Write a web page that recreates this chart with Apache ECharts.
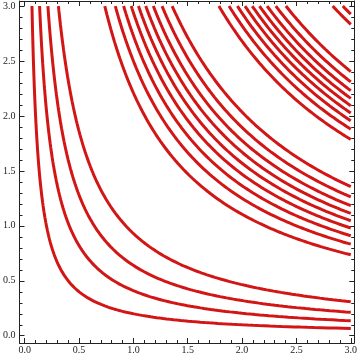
<!DOCTYPE html>
<html>
<head>
<meta charset="utf-8">
<script src="https://cdn.jsdelivr.net/npm/echarts@6/dist/echarts.min.js"></script>
<style>html,body{margin:0;padding:0;background:#fff}#c{width:360px;height:357px}</style>
</head>
<body>
<div id="c"></div>
<script>
// Contour curves x*y = c (contours of sin(x*y) at levels ±0.2..±0.8 and 0)
var contourProducts = [0.20, 0.41, 0.64, 0.93,
  2.21, 2.50, 2.73, 2.94, 3.14, 3.34, 3.55, 3.79, 4.07,
  5.36, 5.64, 5.87, 6.08, 6.28, 6.48, 6.69, 6.93, 7.21,
  8.50, 8.78];
var majorTicks = [0, 0.5, 1, 1.5, 2, 2.5, 3];
var minorTicks = [0,0.1,0.2,0.3,0.4,0.5,0.6,0.7,0.8,0.9,1,1.1,1.2,1.3,1.4,1.5,1.6,1.7,1.8,1.9,2,2.1,2.2,2.3,2.4,2.5,2.6,2.7,2.8,2.9,3];
var domainMax = 3;

var series = contourProducts.map(function (c) {
  var xs = c / domainMax, xe = domainMax, n = 160, pts = [];
  for (var i = 0; i <= n; i++) {
    var x = xs * Math.pow(xe / xs, i / n);
    pts.push([x, c / x]);
  }
  return {
    type: 'line', data: pts, showSymbol: false, symbol: 'none',
    xAxisIndex: 0, yAxisIndex: 0,
    lineStyle: { color: '#d21616', width: 3 }, silent: true
  };
});

var lab = { fontFamily: 'Liberation Serif', fontSize: 10, color: '#222' };
function fmt(v) { return v.toFixed(1); }
function xa(pos, major, showLabel, showLine) {
  return {
    type: 'value', position: pos, min: -0.048, max: 3.032,
    axisLine: { show: showLine, onZero: false, lineStyle: { color: '#222', width: 1 } },
    axisTick: { show: true, inside: true, length: major ? 5 : 3, customValues: major ? majorTicks : minorTicks,
      lineStyle: { color: '#222', width: 1 } },
    axisLabel: { show: showLabel, customValues: majorTicks, formatter: fmt, margin: 2,
      fontFamily: lab.fontFamily, fontSize: lab.fontSize, color: lab.color },
    splitLine: { show: false }
  };
}
function ya(pos, major, showLabel, showLine) {
  return {
    type: 'value', position: pos, min: -0.066, max: 3.046,
    axisLine: { show: showLine, onZero: false, lineStyle: { color: '#222', width: 1 } },
    axisTick: { show: true, inside: true, length: major ? 5 : 3, customValues: major ? majorTicks : minorTicks,
      lineStyle: { color: '#222', width: 1 } },
    axisLabel: { show: showLabel, customValues: majorTicks, formatter: fmt, margin: 4,
      fontFamily: lab.fontFamily, fontSize: lab.fontSize, color: lab.color },
    splitLine: { show: false }
  };
}

var chart = echarts.init(document.getElementById('c'), null, { renderer: 'canvas' });
chart.setOption({
  animation: false,
  backgroundColor: '#fff',
  grid: { left: 17, right: 4, top: 1, bottom: 14, containLabel: false },
  xAxis: [xa('bottom', true, true, true), xa('bottom', false, false, false),
          xa('top', true, false, true), xa('top', false, false, false)],
  yAxis: [ya('left', true, true, true), ya('left', false, false, false),
          ya('right', true, false, true), ya('right', false, false, false)],
  series: series
});
</script>
</body>
</html>
